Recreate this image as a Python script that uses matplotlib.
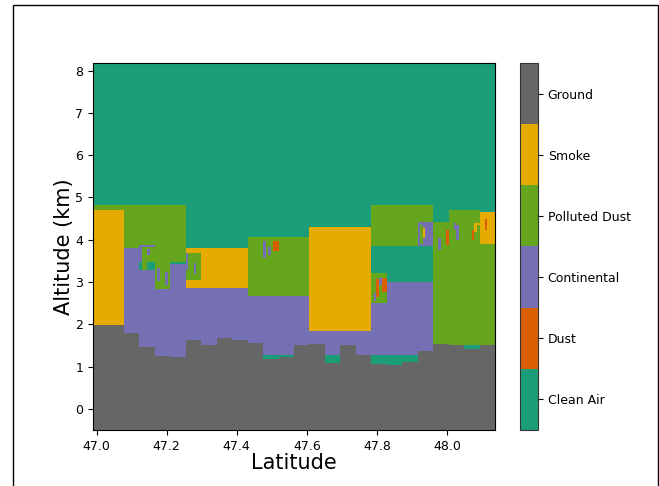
import matplotlib
matplotlib.use("Agg")
import matplotlib.pyplot as plt
import numpy as np
from matplotlib.colors import ListedColormap, BoundaryNorm
from matplotlib.patches import Rectangle

# aerosol classes, bottom to top of the colorbar
class_names = ["Clean Air", "Dust", "Continental", "Polluted Dust", "Smoke", "Ground"]
class_colors = ["#1b9e77", "#d95f02", "#7570b3", "#66a61e", "#e6ab02", "#666666"]

# profile columns along the track
lat_start = 46.990
lat_step = 0.0441
n_cols = 26
ground_top = [1.99, 1.99, 1.80, 1.47, 1.25, 1.22, 1.65, 1.53, 1.68, 1.64,
              1.56, 1.19, 1.23, 1.50, 1.55, 1.08, 1.53, 1.29, 1.06, 1.04,
              1.13, 1.37, 1.55, 1.50, 1.43, 1.50]

# layer blocks: first column, end column (exclusive), bottom km, top km, class
blk_c0 = [0, 0, 2, 2, 3, 4, 5, 5, 6, 6, 6, 10, 10, 11, 14, 14, 15, 18, 18, 18, 18, 21, 22, 23, 25, 25, 24]
blk_c1 = [2, 2, 6, 3, 4, 5, 6, 6, 10, 10, 7, 14, 14, 13, 18, 18, 16, 22, 22, 19, 21, 22, 23, 25, 26, 26, 25]
blk_bot = [-0.5, 4.70, -0.5, -0.5, -0.5, -0.5, -0.5, 3.43, -0.5, -0.5, 3.05, -0.5, -0.5, -0.5,
           -0.5, -0.5, -0.5, 3.87, -0.5, 2.51, -0.5, 3.87, -0.5, -0.5, -0.5, 3.91, -0.5]
blk_top = [4.70, 4.82, 4.82, 3.81, 3.89, 2.85, 3.43, 3.48, 3.80, 2.87, 3.68, 4.07, 2.67, 1.29,
           4.30, 1.85, 1.29, 4.82, 3.01, 3.23, 1.29, 4.42, 4.42, 4.70, 3.91, 4.66, 1.50]
blk_cls = [4, 3, 3, 2, 2, 2, 2, 0, 4, 2, 3, 3, 2, 0, 4, 2, 0, 3, 2, 3, 0, 2, 3, 3, 3, 4, 0]

# small features inside the layers: lat from, lat to, bottom km, top km, class
st_lat0 = [47.127, 47.141, 47.120, 47.127, 47.146, 47.172, 47.198, 47.254, 47.280,
           47.472, 47.491, 47.508, 47.798, 47.815, 47.791, 47.808, 47.922, 47.931,
           47.977, 47.994, 48.021, 48.028, 48.071, 48.079, 48.083, 48.108]
st_lat1 = [47.165, 47.151, 47.127, 47.146, 47.165, 47.182, 47.204, 47.265, 47.286,
           47.480, 47.498, 47.518, 47.806, 47.825, 47.798, 47.815, 47.931, 47.939,
           47.985, 48.002, 48.028, 48.036, 48.081, 48.090, 48.090, 48.117]
st_bot = [3.48, 3.64, 3.29, 3.29, 3.29, 3.02, 2.95, 3.28, 3.20,
          3.57, 3.64, 3.74, 2.64, 2.77, 2.55, 2.95, 3.91, 4.04,
          3.77, 3.88, 4.23, 4.01, 4.01, 4.19, 4.07, 4.25]
st_top = [3.83, 3.79, 3.48, 3.48, 3.48, 3.35, 3.25, 3.68, 3.44,
          3.99, 3.83, 3.99, 3.06, 3.11, 2.75, 3.11, 4.34, 4.28,
          4.05, 4.23, 4.40, 4.34, 4.23, 4.40, 4.34, 4.51]
st_cls = [3, 2, 0, 3, 0, 2, 2, 2, 2,
          2, 2, 1, 1, 1, 2, 2, 3, 4,
          2, 1, 2, 2, 1, 4, 3, 1]

# raster grid
sub = 6
lat_edges = lat_start + np.arange(n_cols * sub + 1) * lat_step / sub
alt_edges = np.arange(-0.5, 8.19, 0.02)
lat_c = 0.5 * (lat_edges[:-1] + lat_edges[1:])
alt_c = 0.5 * (alt_edges[:-1] + alt_edges[1:])
col_idx = np.minimum((np.arange(len(lat_c)) // sub), n_cols - 1)

grid = np.zeros((len(alt_c), len(lat_c)), dtype=int)
A = alt_c[:, None]
C = col_idx[None, :]
L = lat_c[None, :]
for c0, c1, b, t, k in zip(blk_c0, blk_c1, blk_bot, blk_top, blk_cls):
    grid[(C >= c0) & (C < c1) & (A >= b) & (A < t)] = k
for l0, l1, b, t, k in zip(st_lat0, st_lat1, st_bot, st_top, st_cls):
    grid[(L >= l0) & (L < l1) & (A >= b) & (A < t)] = k
gtop = np.array(ground_top)[col_idx][None, :]
grid[A < gtop] = 5

cmap = ListedColormap(class_colors)
norm = BoundaryNorm(np.arange(-0.5, 6.5, 1), cmap.N)

fig = plt.figure(figsize=(6.59, 4.86), dpi=100)
ax = fig.add_axes([93 / 659, 56 / 486, 402 / 659, 367 / 486])
cax = fig.add_axes([520 / 659, 56 / 486, 18 / 659, 367 / 486])

mesh = ax.pcolormesh(lat_edges, alt_edges, grid, cmap=cmap, norm=norm, shading="flat")
ax.set_xlim(lat_edges[0], lat_edges[-1])
ax.set_ylim(-0.5, 8.18)
ax.set_xticks([47.0, 47.2, 47.4, 47.6, 47.8, 48.0])
ax.set_yticks(range(0, 9))
ax.tick_params(labelsize=9)
ax.set_xlabel("Latitude", fontsize=15, labelpad=0)
ax.set_ylabel("Altitude (km)", fontsize=15, labelpad=1)

cb = fig.colorbar(mesh, cax=cax, ticks=range(6))
cb.minorticks_off()
cb.ax.tick_params(which="minor", length=0, width=0)
cb.ax.set_yticklabels(class_names, fontsize=9)
cb.outline.set_edgecolor("#333333")

# frame around the figure
fig.add_artist(Rectangle((12.5 / 659, -0.05), 645 / 659, 1.05 - 5.5 / 486,
                         transform=fig.transFigure, fill=False,
                         edgecolor="black", linewidth=1.0))

fig.savefig("out.png", dpi=100)
